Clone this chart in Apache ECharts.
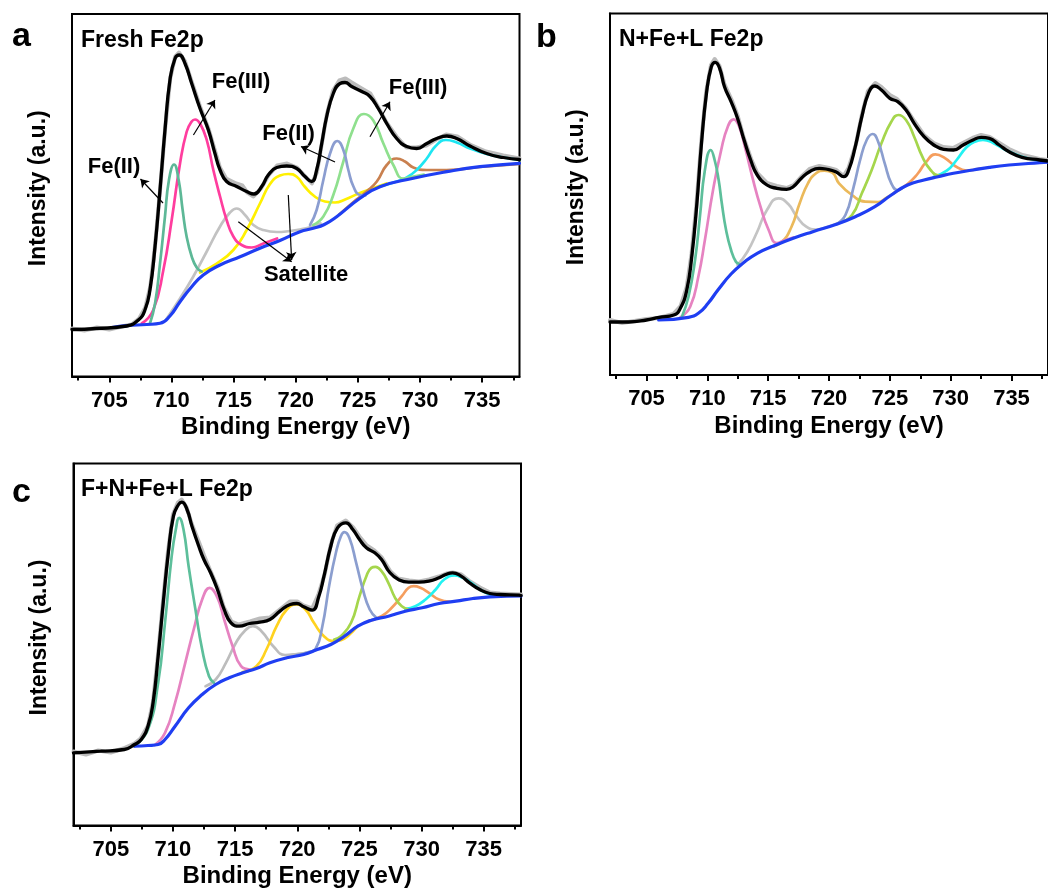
<!DOCTYPE html>
<html>
<head>
<meta charset="utf-8">
<title>Fe 2p XPS spectra</title>
<script src="https://cdn.jsdelivr.net/npm/echarts@6/dist/echarts.min.js"></script>
<style>
  html, body { margin: 0; padding: 0; background: #fff; }
  #chart { width: 1048px; height: 892px; }
</style>
</head>
<body>
<div id="chart"></div>
<script>
// ---------------------------------------------------------------
// Binding-energy axis
// ---------------------------------------------------------------
const EV_MIN = 702;
const EV_MAX = 738;
const majorTicks = [705, 710, 715, 720, 725, 730, 735];
const minorTicks = [702.5, 707.5, 712.5, 717.5, 722.5, 727.5, 732.5, 737.5];

// ---------------------------------------------------------------
// (a) Fresh Fe2p  —  points are [binding energy (eV), intensity (a.u.)]
// ---------------------------------------------------------------
const freshRaw = [[702,48],[703,46],[704,49],[705,47],[706,50],[706.8,52],[707.4,58],[707.9,69],[708.3,90],[708.7,133],[709.1,189],[709.5,249],[709.9,298],[710.3,320],[710.6,324],[711.1,315],[711.6,296],[712.3,270],[713.0,247],[713.5,226],[713.9,209],[714.4,198],[715.2,193],[715.7,191],[716.1,184],[716.6,180],[717.2,188],[717.8,201],[718.5,211],[719.3,213],[720.1,209],[720.7,201],[721.3,193],[721.7,204],[722.1,233],[722.5,262],[723.0,286],[723.5,296],[724.0,298],[724.5,294],[725.3,288],[726.0,283],[726.6,270],[727.3,254],[728.1,240],[728.9,229],[729.7,229],[730.5,231],[731.3,237],[732.1,242],[733.0,240],[734.0,232],[735.3,225],[736.7,221],[738.0,218]];
const freshEnvelope = [[702.0,47],[704.0,48],[706.4,50.5],[707.34,56.5],[707.87,66.5],[708.27,86.5],[708.68,130],[709.08,186.5],[709.48,246.5],[709.88,296.5],[710.29,318],[710.63,321.5],[711.09,313],[711.63,293],[712.30,268],[712.97,246.5],[713.50,223],[713.91,206.5],[714.44,195],[715.25,190],[716.05,185],[716.64,182.5],[717.26,190],[717.79,201.5],[718.47,209],[719.27,210.5],[720.08,208],[720.74,200],[721.28,195],[721.68,206.5],[722.09,233],[722.49,260],[723.02,283],[723.56,293],[723.96,294],[724.50,290],[725.31,285],[725.97,280],[726.64,268],[727.32,253],[728.12,238],[728.93,230],[729.73,228],[730.54,233],[731.34,238],[732.15,240.5],[732.95,238],[734.02,230.5],[735.36,223],[736.70,219],[738.0,217]];
const freshBackground = [[705.2,49],[706.4,50.8],[708.0,52],[709.08,53.2],[709.88,60.5],[710.69,74.8],[711.63,89.8],[712.56,101.5],[713.91,111.5],[715.52,119.8],[717.12,128.2],[718.73,136],[720.34,144.8],[721.41,148.2],[722.3,152],[723.29,159.8],[725.17,178.2],[726.78,189.8],[729.46,198.2],[732.15,204.8],[734.82,209.8],[738.0,213.2]];
const freshFe2_p32 = [[708.27,53],[708.68,73],[709.08,113],[709.48,160],[709.80,196.5],[710.21,212],[710.58,196.5],[710.90,166.5],[711.22,140],[711.63,120],[712.03,109],[712.43,105]];
const freshFe3_p32 = [[707.61,53],[708.54,66.5],[709.35,106.5],[710.02,156.5],[710.69,213],[711.23,245],[711.63,255],[711.90,257],[712.30,253],[712.84,236.5],[713.37,206.5],[713.91,180],[714.44,156.5],[714.98,140],[715.65,131.5],[716.46,129],[717.39,133],[718.5,138]];
const freshSat1 = [[709.62,58],[710.69,78],[711.76,100],[712.84,125],[713.91,150],[714.71,164],[715.25,168],[715.92,161.5],[716.59,151.5],[717.39,146.5],[718.47,144.5],[719.54,145.5],[720.34,147],[721.2,149.5],[722.0,153]];
const freshSat2 = [[712.30,104],[713.64,113],[714.98,126.5],[716.05,146.5],[717.12,173],[717.93,192.5],[718.73,201],[719.40,202.5],[720.08,199.8],[720.71,190],[721.53,180],[722.34,175],[723.16,174],[723.97,177],[725.06,183],[726.15,188],[727.3,193]];
const freshFe2_p12 = [[721.15,151.5],[721.68,166.5],[722.22,196.5],[722.76,223],[723.35,235.5],[723.83,226.5],[724.23,206.5],[724.64,190],[725.17,181.5],[725.6,181]];
const freshFe3_p12 = [[721.41,151.5],[722.22,160],[723.02,181.5],[723.83,215],[724.63,248],[725.49,262.5],[726.24,256],[727.05,233],[727.85,211.5],[728.65,198],[729.46,200],[730.3,202]];
const freshSat3 = [[723.5,162],[724.6,174],[725.7,185],[726.52,195],[727.32,211.5],[728.12,218],[728.79,215],[729.46,209],[730.53,206.5],[732.14,206.5],[734.82,209.5],[738.0,212.5]];
const freshSat4 = [[726.78,190],[728.12,195],[728.93,199],[729.73,206.5],[730.54,218],[731.26,230.5],[732.07,236.5],[732.95,234],[734.02,228],[735.36,222.5],[736.70,219],[738.0,216.5]];

// ---------------------------------------------------------------
// (b) N+Fe+L Fe2p
// ---------------------------------------------------------------
const nflRaw = [[702,55],[703,52],[704,54],[705,56],[706,57],[707.2,61],[707.8,69],[708.3,88],[708.7,121],[709.1,170],[709.5,233],[709.9,283],[710.3,310],[710.6,316],[711.0,309],[711.4,291],[712.0,275],[712.5,259],[713.0,237],[713.6,216],[714.1,202],[714.9,192],[715.7,189],[716.5,187],[717.1,190],[717.7,198],[718.4,206],[719.2,209],[720.0,207],[720.6,205],[721.2,199],[721.6,207],[722.2,230],[722.7,260],[723.2,284],[723.8,292],[724.3,288],[725.0,280],[725.6,276],[726.3,267],[727.0,254],[727.8,240],[728.6,232],[729.4,228],[730.2,227],[731.0,232],[731.8,237],[732.5,240],[733.2,238],[734.0,232],[734.8,226],[735.9,220],[737.3,216],[738,215]];
const nflEnvelope = [[702.0,53],[703.5,53],[705.0,55],[706.03,57.7],[707.24,60],[707.78,66.7],[708.31,85],[708.72,118.3],[709.12,168.3],[709.52,231.7],[709.93,281.7],[710.33,308.3],[710.65,312.7],[711.01,306.7],[711.41,288.3],[711.95,273.3],[712.48,256.7],[713.02,235],[713.56,215],[714.10,200],[714.90,190],[715.71,186.7],[716.52,185.7],[717.06,188.3],[717.73,196.7],[718.40,203.3],[719.20,206.7],[719.74,206],[720.55,203.3],[721.22,198.3],[721.62,205],[722.16,228.3],[722.70,258.3],[723.24,281.7],[723.77,289],[724.31,285],[725.0,276.7],[725.65,273.3],[726.33,265],[727.0,251.7],[727.81,238.3],[728.61,230],[729.42,225.7],[730.23,225],[731.03,230],[731.84,235],[732.51,237.7],[733.18,236.7],[733.99,230],[734.80,223.3],[735.87,217.7],[737.32,215],[738.0,214]];
const nflBackground = [[706.0,55],[708.45,57.7],[709.26,61.7],[710.06,71.7],[710.87,85],[711.95,101],[713.02,112.7],[714.10,121.7],[715.44,129],[717.06,136.7],[718.67,143.3],[720.55,150.5],[722.16,158.3],[723.77,168.3],[725.12,180],[726.46,190],[727.81,195],[728.96,198.3],[730.23,201.7],[731.84,205],[733.18,207.7],[734.80,210],[737.32,212.3],[738.0,212.8]];
const nflFe2_p32 = [[707.91,58.3],[708.45,78.3],[708.99,115],[709.39,158.3],[709.80,205],[710.28,225],[710.60,215],[710.93,195],[711.19,171.7],[711.54,145],[711.95,125],[712.35,113.3],[712.62,111]];
const nflFe3_p32 = [[707.78,57.7],[708.59,68.3],[709.26,98.3],[709.80,135],[710.47,185],[711.14,225],[711.68,248.3],[712.16,255.7],[712.62,248.3],[713.15,225],[713.69,198.3],[714.37,168.3],[715.04,145],[715.71,132],[716.3,134.5],[717.06,137.5]];
const nflSat1 = [[712.48,110],[713.29,123.3],[714.10,143.3],[714.90,165],[715.85,176.7],[716.65,171],[717.32,159],[718.13,148.3],[718.94,145.5],[719.74,147.5],[720.55,151],[721.3,154.5]];
const nflSat2 = [[715.17,128],[716.11,133],[716.92,148.3],[717.59,171.7],[718.27,191.7],[718.94,201.7],[719.61,204.3],[720.28,202.3],[720.82,191.7],[721.89,180],[722.97,173.3],[724.04,173],[724.7,177],[725.4,182.5]];
const nflFe2_p12 = [[720.55,150.5],[721.35,160],[722.03,188.3],[722.56,215],[723.10,235],[723.59,241],[724.04,233.3],[724.58,211.7],[725.12,191.7],[725.65,185],[726.1,187.5]];
const nflFe3_p12 = [[720.82,152],[721.89,160],[722.70,181.7],[723.51,205],[724.31,231.7],[725.12,253.3],[725.71,260],[726.33,255],[727.0,238.3],[727.67,218.3],[728.35,205],[729.02,199.5],[729.6,200.5]];
const nflSat3 = [[725.39,182.5],[726.46,191],[727.27,201],[727.94,212.3],[728.75,220.7],[729.56,216.7],[730.36,209],[731.30,204.5],[732.38,206.5]];
const nflSat4 = [[728.61,198.3],[729.68,204.3],[730.49,215],[731.30,227.7],[731.98,233.3],[732.65,235],[733.45,232.3],[734.52,225],[735.87,218.3],[737.32,214.3],[738.0,213.5]];

// ---------------------------------------------------------------
// (c) F+N+Fe+L Fe2p
// ---------------------------------------------------------------
const fnflRaw = [[702,74],[703,71],[704,75],[705,73],[706,77],[706.9,82],[707.4,87],[708.0,100],[708.4,124],[708.8,171],[709.2,224],[709.6,274],[710.0,311],[710.4,323],[710.7,326],[711.1,318],[711.5,302],[712.1,283],[712.5,270],[713.0,255],[713.6,238],[714.1,218],[714.7,204],[715.3,201],[716.2,204],[717.0,207],[717.8,208],[718.6,216],[719.4,224],[720.0,224],[720.5,220],[721.2,217],[721.7,231],[722.2,251],[722.7,281],[723.2,300],[723.9,305],[724.5,298],[725.0,289],[725.6,280],[726.2,275],[726.8,268],[727.5,254],[728.1,247],[729.0,245],[729.8,244],[730.6,246],[731.4,249],[732.0,252],[732.5,253],[733.2,251],[733.9,244],[734.7,238],[735.5,233],[736.3,232],[738,231]];
const fnflEnvelope = [[702.0,72.7],[704.18,74.3],[706.09,76],[706.91,81],[707.45,86],[707.99,99.3],[708.40,122.7],[708.81,169.3],[709.22,222.7],[709.63,272.7],[710.04,309.3],[710.45,321],[710.72,323.3],[711.13,316],[711.53,299.3],[712.08,279.3],[712.49,266],[713.03,252.7],[713.58,236],[714.12,216],[714.67,202.7],[715.35,199.3],[716.16,202],[716.98,203.3],[717.80,206],[718.61,214.3],[719.43,221],[719.97,222],[720.52,218.7],[721.20,215.3],[721.74,229.3],[722.15,249.3],[722.70,279.3],[723.24,297.7],[723.92,302.7],[724.47,296],[725.01,286],[725.56,277.7],[726.24,272.7],[726.78,266],[727.46,252.7],[728.14,246],[728.96,243.3],[729.78,243.3],[730.59,244.3],[731.41,247.7],[731.95,251],[732.50,252.7],[733.18,249.3],[733.86,242.7],[734.68,236],[735.49,232],[736.31,231],[737.84,230.3],[738.0,230]];
const fnflBackground = [[706.91,79.3],[707.99,80],[708.81,81],[709.36,86],[710.17,99.3],[711.26,117.7],[712.35,131],[713.44,141],[714.53,147.7],[715.62,152.7],[716.71,157],[717.80,162.7],[719.16,167.7],[720.52,171],[721.61,176],[722.70,181],[723.79,189.3],[724.87,199.3],[725.96,205.3],[727.33,209.3],[728.69,214.3],[730.05,217.7],[731.41,222],[732.77,224.3],[734.13,227],[735.49,228.7],[736.85,229.3],[738.0,229.5]];
const fnflFe2_p32 = [[706.91,79.3],[707.99,96],[708.81,142.7],[709.36,202.7],[709.90,269.3],[710.23,296],[710.50,307.7],[710.85,296],[711.26,259.3],[711.81,216],[712.35,176],[712.90,149.3],[713.30,142.7]];
const fnflFe3_p32 = [[708.54,80.5],[709.36,92.7],[710.17,122.7],[710.99,162.7],[711.67,196],[712.35,226],[712.95,237.7],[713.58,227.7],[714.12,206],[714.80,179.3],[715.48,159.3],[716.2,156]];
const fnflSat1 = [[712.62,139.3],[713.44,146],[714.26,162.7],[715.07,182.7],[715.75,194.3],[716.43,199.3],[717.12,194.3],[718.07,179.3],[719.02,170.5],[719.97,171.5],[720.79,173],[721.5,175.5]];
const fnflSat2 = [[715.6,153.5],[716.71,159.3],[717.52,176],[718.34,199.3],[719.16,216],[719.92,221],[720.66,216],[721.34,202.7],[722.15,189.3],[722.97,184.3],[723.51,185.3],[724.06,189.3],[724.87,199.5]];
const fnflFe2_p12 = [[719.97,170.5],[720.79,173],[721.47,176.5],[722.02,199.3],[722.56,239.3],[723.11,272.7],[723.51,289.3],[723.79,293.3],[724.19,287.7],[724.74,262.7],[725.28,236],[725.83,216],[726.37,207.7]];
const fnflFe3_p12 = [[722.97,186],[723.51,189.3],[724.33,202.7],[725.01,229.3],[725.56,249.3],[725.96,257.7],[726.29,258.7],[726.78,254.3],[727.33,242.7],[727.87,227.7],[728.41,219.3],[728.96,216]];
const fnflSat3 = [[725.69,204.5],[726.78,209.3],[727.60,217.7],[728.41,229.3],[728.96,237.7],[729.37,239.3],[729.91,237.7],[730.59,232.7],[731.41,226],[732.23,224]];
const fnflSat4 = [[728.69,216.7],[729.50,219.3],[730.32,226],[731.14,236],[731.82,246],[732.64,250],[733.31,247.7],[733.99,242.7],[734.68,236],[735.49,231],[736.04,229.3]];

// Peak assignments marked on panel (a): label text and its anchor [eV, intensity]
const freshLabels = [
  { name: 'Fe(II)',    value: [705.38, 209.5] },
  { name: 'Fe(III)',   value: [715.60, 294.5] },
  { name: 'Fe(II)',    value: [719.42, 243.0] },
  { name: 'Fe(III)',   value: [729.84, 288.5] },
  { name: 'Satellite', value: [720.83, 101.5] }
];
// Leader arrows on panel (a): from a peak towards its label, [eV, intensity]
const freshArrows = [
  [[709.32, 173.5], [707.51, 197.5]],
  [[711.77, 241.5], [713.50, 276.5]],
  [[723.16, 214.5], [720.42, 230.0]],
  [[725.97, 239.8], [727.58, 274.8]],
  [[715.38, 154.8], [719.67, 114.8]],
  [[719.40, 181.5], [719.67, 116.5]]
];

// ---------------------------------------------------------------
// Styling and layout
// ---------------------------------------------------------------
const FONT = '"Liberation Sans", Arial, Helvetica, sans-serif';

const panels = [
  {
    grid: { left: 72, top: 14, width: 447.5, height: 362.5 },
    yMax: 362.5,
    raw: freshRaw, envelope: freshEnvelope, background: freshBackground,
    parts: [
      [freshSat1, '#c2c2c2'],
      [freshSat2, '#fff000'],
      [freshFe3_p32, '#ff3d9e'],
      [freshFe2_p32, '#5db897'],
      [freshSat3, '#c9804f'],
      [freshSat4, '#1ee6f2'],
      [freshFe3_p12, '#8fe08e'],
      [freshFe2_p12, '#8b9dd0']
    ]
  },
  {
    grid: { left: 610, top: 13.5, width: 446.5, height: 361.5 },
    yMax: 361.5,
    raw: nflRaw, envelope: nflEnvelope, background: nflBackground,
    parts: [
      [nflSat1, '#c4c4c4'],
      [nflSat2, '#ebb95a'],
      [nflFe3_p32, '#e683c1'],
      [nflFe2_p32, '#5dbf9b'],
      [nflSat3, '#f59e5e'],
      [nflSat4, '#22f2f2'],
      [nflFe3_p12, '#a5d64c'],
      [nflFe2_p12, '#8b9ecf']
    ]
  },
  {
    grid: { left: 73.5, top: 463.5, width: 447.5, height: 362 },
    yMax: 362,
    raw: fnflRaw, envelope: fnflEnvelope, background: fnflBackground,
    parts: [
      [fnflSat1, '#bdbdbd'],
      [fnflSat2, '#ffd21f'],
      [fnflFe3_p32, '#e683c1'],
      [fnflFe2_p32, '#5dbf9b'],
      [fnflSat3, '#f59e5e'],
      [fnflSat4, '#22f2f2'],
      [fnflFe3_p12, '#a5d64c'],
      [fnflFe2_p12, '#8b9ecf']
    ]
  }
];

const grids = [], xAxes = [], yAxes = [], series = [];

panels.forEach((p, i) => {
  grids.push(Object.assign({ show: true, borderColor: '#000', borderWidth: 2, backgroundColor: 'transparent' }, p.grid));

  // main x axis with labels and major ticks
  xAxes.push({
    type: 'value', gridIndex: i, min: EV_MIN, max: EV_MAX, position: 'bottom',
    axisLine: { show: true, lineStyle: { color: '#000', width: 2 } },
    axisTick: { show: true, customValues: majorTicks, inside: false, length: 6, lineStyle: { color: '#000', width: 2 } },
    axisLabel: { show: true, customValues: majorTicks, margin: 13, color: '#000', fontSize: 22, fontWeight: 'bold', fontFamily: FONT },
    splitLine: { show: false },
    name: 'Binding Energy (eV)', nameLocation: 'middle', nameGap: 39,
    nameTextStyle: { color: '#000', fontSize: 24, fontWeight: 'bold', fontFamily: FONT }
  });
  // companion x axis carrying the minor ticks only
  xAxes.push({
    type: 'value', gridIndex: i, min: EV_MIN, max: EV_MAX, position: 'bottom',
    axisLine: { show: false },
    axisTick: { show: true, customValues: minorTicks, inside: false, length: 4, lineStyle: { color: '#000', width: 2 } },
    axisLabel: { show: false },
    splitLine: { show: false }
  });
  yAxes.push({
    type: 'value', gridIndex: i, min: 0, max: p.yMax,
    axisLine: { show: true, lineStyle: { color: '#000', width: 2 } },
    axisTick: { show: false }, axisLabel: { show: false }, splitLine: { show: false },
    name: 'Intensity (a.u.)', nameLocation: 'middle', nameGap: 22, nameRotate: 90,
    nameTextStyle: { color: '#000', fontSize: 23, fontWeight: 'bold', fontFamily: FONT, padding: [0, 0, 0, 14] }
  });

  const xi = i * 2, yi = i;
  const line = (data, color, width, z, smooth) => ({
    type: 'line', xAxisIndex: xi, yAxisIndex: yi, data,
    symbol: 'none', showSymbol: false, silent: true, animation: false,
    smooth: smooth, z,
    lineStyle: { color, width, cap: 'round', join: 'round' }
  });

  series.push(line(p.raw, '#bcbcbc', 4, 1, false));
  p.parts.forEach(([data, color]) => series.push(line(data, color, 2.7, 2, 0.5)));
  series.push(line(p.background, '#1f3ef2', 3.2, 3, 0.5));
  series.push(line(p.envelope, '#000000', 3.3, 4, 0.5));
});

// annotations for panel (a)
series.push({
  type: 'lines', coordinateSystem: 'cartesian2d', xAxisIndex: 0, yAxisIndex: 0,
  silent: true, animation: false, z: 6,
  symbol: ['none', 'arrow'], symbolSize: 8,
  lineStyle: { color: '#000', width: 1.2, opacity: 1, curveness: 0 },
  data: freshArrows.map(c => ({ coords: c }))
});
series.push({
  type: 'scatter', xAxisIndex: 0, yAxisIndex: 0, silent: true, animation: false, z: 7,
  symbolSize: 1, itemStyle: { color: '#fff', opacity: 0 },
  label: {
    show: true, position: 'inside', formatter: '{b}', color: '#000', opacity: 1,
    textBorderWidth: 0, fontSize: 22, fontWeight: 'bold', fontFamily: FONT
  },
  data: freshLabels
});

const textEl = (text, left, top, size) => ({
  type: 'text', left, top, silent: true,
  style: { text, fill: '#000', font: 'bold ' + size + 'px ' + FONT }
});

const chart = echarts.init(document.getElementById('chart'), null, { renderer: 'canvas' });
chart.setOption({
  backgroundColor: '#ffffff',
  animation: false,
  grid: grids,
  xAxis: xAxes,
  yAxis: yAxes,
  series,
  graphic: [
    textEl('a', 12, 20, 34),
    textEl('b', 536, 21, 34),
    textEl('c', 12, 476, 34),
    textEl('Fresh Fe2p', 81, 29, 23),
    textEl('N+Fe+L Fe2p', 619, 28, 23),
    textEl('F+N+Fe+L Fe2p', 81, 478, 23)
  ]
});
</script>
</body>
</html>
